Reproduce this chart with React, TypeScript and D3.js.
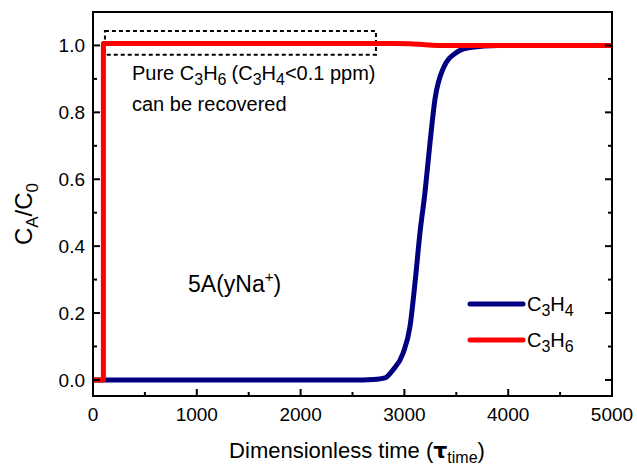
import React from "react";
import * as d3 from "d3";

const c3h4: [number, number][] = [
  [0, 0], [2600, 0], [2700, 0.001], [2813, 0.006], [2890, 0.03], [2987, 0.08],
  [3054, 0.16], [3102, 0.29], [3150, 0.44], [3198, 0.56], [3247, 0.71],
  [3295, 0.84], [3372, 0.93], [3507, 0.98], [3632, 0.994], [3900, 1.0], [5000, 1.0],
];
const c3h6: [number, number][] = [
  [0, 0], [100, 0], [100, 1.006], [2900, 1.006], [3050, 1.005], [3200, 1.002],
  [3350, 1.0], [5000, 1.0],
];
const xMajor = [0, 1000, 2000, 3000, 4000, 5000];
const xMinor = [500, 1500, 2500, 3500, 4500];
const yMajor = [0, 0.2, 0.4, 0.6, 0.8, 1.0];
const yMinor = [0.1, 0.3, 0.5, 0.7, 0.9];
const boxX = [115, 2726];
const boxY = [0.972, 1.043];

export default function App() {
  const W = 637, H = 469;
  const L = 93, R = 612, T = 12, B = 396;
  const x = d3.scaleLinear().domain([0, 5000]).range([L, R]);
  const y = d3.scaleLinear().domain([-0.048, 1.1]).range([B, T]);
  const line = d3.line<[number, number]>().x(d => x(d[0])).y(d => y(d[1])).curve(d3.curveMonotoneX);
  const font = "Arial, 'Liberation Sans', sans-serif";
  return (
    <svg width={W} height={H} style={{ position: "absolute", left: 0, top: 0 }} fontFamily={font}>
      <rect width={W} height={H} fill="white" />
      <defs>
        <clipPath id="clip"><rect x={L} y={T} width={R - L} height={B - T} /></clipPath>
      </defs>
      {/* dashed box */}
      <rect x={x(boxX[0])} y={y(boxY[1])} width={x(boxX[1]) - x(boxX[0])} height={y(boxY[0]) - y(boxY[1])}
        fill="none" stroke="black" strokeWidth={2} strokeDasharray="4,3" />
      <g clipPath="url(#clip)">
        <path d={line(c3h4) || ""} fill="none" stroke="#000080" strokeWidth={5} strokeLinejoin="round" />
        <path d={line(c3h6) || ""} fill="none" stroke="#ff0000" strokeWidth={5} strokeLinejoin="round" />
      </g>
      {/* axes frame */}
      <rect x={L} y={T} width={R - L} height={B - T} fill="none" stroke="black" strokeWidth={2} />
      {xMajor.map(v => <line key={"xM" + v} x1={x(v)} x2={x(v)} y1={B} y2={B - 7} stroke="black" strokeWidth={2} />)}
      {xMinor.map(v => <line key={"xm" + v} x1={x(v)} x2={x(v)} y1={B} y2={B - 4} stroke="black" strokeWidth={2} />)}
      {yMajor.map(v => <line key={"yM" + v} x1={L} x2={L + 7} y1={y(v)} y2={y(v)} stroke="black" strokeWidth={2} />)}
      {yMinor.map(v => <line key={"ym" + v} x1={L} x2={L + 4} y1={y(v)} y2={y(v)} stroke="black" strokeWidth={2} />)}
      {yMajor.map(v => <line key={"yR" + v} x1={R} x2={R - 7} y1={y(v)} y2={y(v)} stroke="black" strokeWidth={2} />)}
      {yMinor.map(v => <line key={"yr" + v} x1={R} x2={R - 4} y1={y(v)} y2={y(v)} stroke="black" strokeWidth={2} />)}
      {xMajor.map(v => <text key={"xl" + v} x={x(v)} y={B + 25} textAnchor="middle" fontSize={19}>{v}</text>)}
      {yMajor.map(v => <text key={"yl" + v} x={L - 8} y={y(v) + 7} textAnchor="end" fontSize={19}>{v.toFixed(1)}</text>)}
      {/* axis titles */}
      <text x={357} y={458} textAnchor="middle" fontSize={22}>
        Dimensionless time (<tspan fontWeight="bold" fontFamily="'DejaVu Sans', sans-serif">τ</tspan>
        <tspan fontSize={16} dy={5}>time</tspan><tspan dy={-5}>)</tspan>
      </text>
      <text transform="translate(32,214) rotate(-90)" textAnchor="middle" fontSize={24}>
        C<tspan fontSize={17} dy={6}>A</tspan><tspan dy={-6}>/C</tspan><tspan fontSize={17} dy={6}>0</tspan>
      </text>
      {/* annotations */}
      <text x={132} y={80} fontSize={20}>
        Pure C<tspan fontSize={16} dy={5}>3</tspan><tspan dy={-5}>H</tspan><tspan fontSize={16} dy={5}>6</tspan>
        <tspan dy={-5} dx={5}>(C</tspan><tspan fontSize={16} dy={5}>3</tspan><tspan dy={-5}>H</tspan>
        <tspan fontSize={16} dy={5}>4</tspan><tspan dy={-5}>&lt;0.1 ppm)</tspan>
      </text>
      <text x={132} y={111} fontSize={20}>can be recovered</text>
      <text x={188} y={292} fontSize={23}>
        5A(yNa<tspan fontSize={15} dy={-10}>+</tspan><tspan dy={10}>)</tspan>
      </text>
      {/* legend */}
      <line x1={470} x2={523} y1={304} y2={304} stroke="#000080" strokeWidth={5} strokeLinecap="round" />
      <line x1={470} x2={523} y1={340} y2={340} stroke="#ff0000" strokeWidth={5} strokeLinecap="round" />
      <text x={527} y={311} fontSize={20}>
        C<tspan fontSize={16} dy={5}>3</tspan><tspan dy={-5}>H</tspan><tspan fontSize={16} dy={5}>4</tspan>
      </text>
      <text x={527} y={347} fontSize={20}>
        C<tspan fontSize={16} dy={5}>3</tspan><tspan dy={-5}>H</tspan><tspan fontSize={16} dy={5}>6</tspan>
      </text>
    </svg>
  );
}
